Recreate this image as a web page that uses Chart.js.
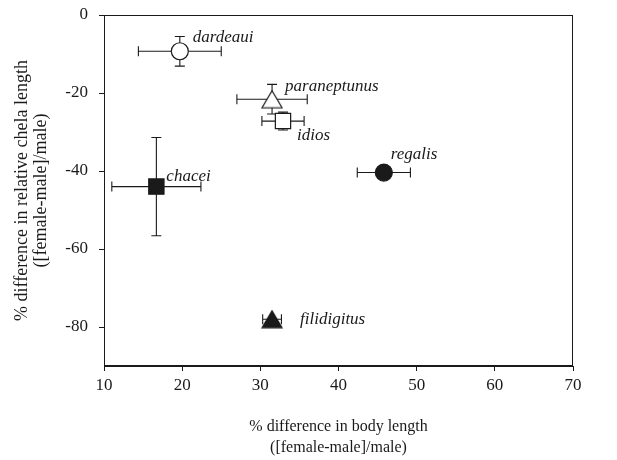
<!DOCTYPE html>
<html>
<head>
<meta charset="utf-8">
<script src="https://cdn.jsdelivr.net/npm/chart.js@4.4.1/dist/chart.umd.min.js"></script>
<style>
  html, body { margin: 0; padding: 0; background: #ffffff; }
  #wrap { width: 617px; height: 460px; }
</style>
</head>
<body>
<div id="wrap"><canvas id="c" width="617" height="460"></canvas></div>
<script>
// ---- data ----
const species   = ['dardeaui', 'paraneptunus', 'idios', 'chacei', 'regalis', 'filidigitus'];
const bodyDiff  = [19.7, 31.5, 32.9, 16.7, 45.8, 31.5];      // x: % difference in body length
const bodyErr   = [5.3, 4.5, 2.7, 5.7, 3.4, 1.2];            // x error (±)
const chelaDiff = [-9.3, -21.6, -27.2, -44.0, -40.4, -78.0]; // y: % difference in relative chela length
const chelaErr  = [3.8, 3.8, 2.3, 12.6, 0, 0];              // y error (±)
const xTicks = [10, 20, 30, 40, 50, 60, 70];
const yTicks = [0, -20, -40, -60, -80];

// ---- styling (not data) ----
const markerKind = ['openCircle', 'openTriangle', 'openSquare', 'filledSquare', 'filledCircle', 'filledTriangle'];
const labelDx = [13, 13, 14, 10, 7, 28];
const labelDy = [-9, -8, 19, -6, -14, 5];   // baseline offsets from the point
const INK = '#1a1a1a';
const SERIF = '"Liberation Serif", "Times New Roman", serif';

function triangleImage(filled) {
  const w = 20, h = 17;
  const cv = document.createElement('canvas');
  cv.width = w + 2; cv.height = h + 2;
  const g = cv.getContext('2d');
  g.beginPath();
  g.moveTo(1 + w / 2, 1);
  g.lineTo(1 + w, 1 + h);
  g.lineTo(1, 1 + h);
  g.closePath();
  g.fillStyle = filled ? INK : '#ffffff';
  g.fill();
  g.lineWidth = 1.2;
  g.strokeStyle = INK;
  g.stroke();
  return cv;
}
const triOpen = triangleImage(false);
const triFilled = triangleImage(true);

function styleFor(kind) {
  switch (kind) {
    case 'openCircle':   return { pointStyle: 'circle', pointRadius: 8.5, backgroundColor: '#ffffff' };
    case 'filledCircle': return { pointStyle: 'circle', pointRadius: 8.5, backgroundColor: INK };
    case 'openSquare':   return { pointStyle: 'rect', pointRadius: 10.8, backgroundColor: '#ffffff' };
    case 'filledSquare': return { pointStyle: 'rect', pointRadius: 10.8, backgroundColor: INK };
    case 'openTriangle': return { pointStyle: triOpen, pointRadius: 10, backgroundColor: '#ffffff' };
    case 'filledTriangle': return { pointStyle: triFilled, pointRadius: 10, backgroundColor: INK };
  }
}

const datasets = species.map((name, i) => {
  const s = styleFor(markerKind[i]);
  return {
    label: name,
    data: [{ x: bodyDiff[i], y: chelaDiff[i] }],
    pointStyle: s.pointStyle,
    pointRadius: s.pointRadius,
    pointHoverRadius: s.pointRadius,
    backgroundColor: s.backgroundColor,
    borderColor: INK,
    borderWidth: 1.2,
    showLine: false
  };
});

const errorBars = {
  id: 'errorBars',
  beforeDatasetsDraw(chart) {
    const { ctx, scales: { x, y } } = chart;
    ctx.save();
    ctx.strokeStyle = INK;
    ctx.lineWidth = 1.1;
    const cap = 5;
    species.forEach((_, i) => {
      const px = x.getPixelForValue(bodyDiff[i]);
      const py = y.getPixelForValue(chelaDiff[i]);
      if (bodyErr[i] > 0) {
        const x0 = x.getPixelForValue(bodyDiff[i] - bodyErr[i]);
        const x1 = x.getPixelForValue(bodyDiff[i] + bodyErr[i]);
        ctx.beginPath();
        ctx.moveTo(x0, py); ctx.lineTo(x1, py);
        ctx.moveTo(x0, py - cap); ctx.lineTo(x0, py + cap);
        ctx.moveTo(x1, py - cap); ctx.lineTo(x1, py + cap);
        ctx.stroke();
      }
      if (chelaErr[i] > 0) {
        const y0 = y.getPixelForValue(chelaDiff[i] + chelaErr[i]);
        const y1 = y.getPixelForValue(chelaDiff[i] - chelaErr[i]);
        ctx.beginPath();
        ctx.moveTo(px, y0); ctx.lineTo(px, y1);
        ctx.moveTo(px - cap, y0); ctx.lineTo(px + cap, y0);
        ctx.moveTo(px - cap, y1); ctx.lineTo(px + cap, y1);
        ctx.stroke();
      }
    });
    ctx.restore();
  },
  afterDatasetsDraw(chart) {
    const { ctx, scales: { x, y }, chartArea: a } = chart;
    ctx.save();
    ctx.strokeStyle = INK;
    ctx.lineWidth = 1;
    ctx.strokeRect(a.left + 0.5, a.top + 0.5, a.right - a.left - 1, a.bottom - a.top - 1);
    ctx.fillStyle = INK;
    ctx.font = 'italic 17px ' + SERIF;
    ctx.textBaseline = 'alphabetic';
    ctx.textAlign = 'left';
    species.forEach((name, i) => {
      const px = x.getPixelForValue(bodyDiff[i]);
      const py = y.getPixelForValue(chelaDiff[i]);
      ctx.fillText(name, px + labelDx[i], py + labelDy[i]);
    });
    ctx.restore();
  }
};

const tickFont = { family: SERIF, size: 17 };

new Chart(document.getElementById('c'), {
  type: 'scatter',
  data: { datasets },
  options: {
    responsive: false,
    animation: false,
    events: [],
    layout: { padding: { left: 0, top: 15, right: 44, bottom: 0 } },
    plugins: { legend: { display: false }, tooltip: { enabled: false } },
    scales: {
      x: {
        type: 'linear',
        min: 10, max: 70,
        afterBuildTicks(s) { s.ticks = xTicks.map(v => ({ value: v })); },
        afterFit(s) { s.height = 94; s.paddingLeft = 0; s.paddingRight = 0; },
        grid: { display: true, drawOnChartArea: false, drawTicks: true, tickLength: 5, color: INK, lineWidth: 1 },
        border: { display: true, color: INK, width: 1 },
        ticks: { color: INK, font: tickFont, padding: 4, maxRotation: 0, autoSkip: false },
        title: {
          display: true,
          text: ['% difference in body length', '([female-male]/male)'],
          color: INK,
          font: { family: SERIF, size: 16, lineHeight: 1.35 },
          padding: { top: 0, bottom: 1 }
        }
      },
      y: {
        type: 'linear',
        min: -90, max: 0,
        afterBuildTicks(s) { s.ticks = yTicks.map(v => ({ value: v })); },
        afterFit(s) { s.width = 104; s.paddingTop = 0; s.paddingBottom = 0; },
        grid: { display: true, drawOnChartArea: false, drawTicks: true, tickLength: 5, color: INK, lineWidth: 1 },
        border: { display: true, color: INK, width: 1 },
        ticks: { color: INK, font: tickFont, padding: 11 },
        title: {
          display: true,
          text: ['% difference in relative chela length', '([female-male]/male)'],
          color: INK,
          font: { family: SERIF, size: 18, lineHeight: 1.1 },
          padding: { top: 12, bottom: 0 }
        }
      }
    }
  },
  plugins: [errorBars]
});
</script>
</body>
</html>
